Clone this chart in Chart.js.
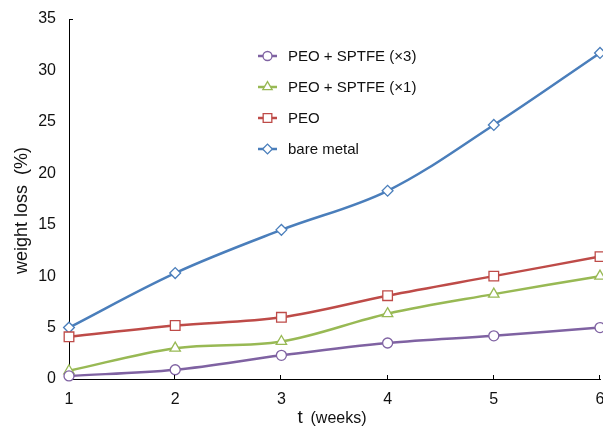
<!DOCTYPE html>
<html><head><meta charset="utf-8">
<script src="https://cdn.jsdelivr.net/npm/chart.js@4.4.0/dist/chart.umd.min.js"></script>
<style>html,body{margin:0;padding:0;background:#fff}#wrap{width:603px;height:427px}</style>
</head><body><div id="wrap"><canvas id="c" width="603" height="427"></canvas></div>
<script>
const weeks = [1, 2, 3, 4, 5, 6];
const peoSptfe3 = [0.3, 0.9, 2.3, 3.5, 4.2, 5.0];
const peoSptfe1 = [0.8, 3.0, 3.65, 6.35, 8.25, 10.0];
const peo = [4.1, 5.2, 6.0, 8.1, 10.0, 11.9];
const bareMetal = [5.0, 10.3, 14.5, 18.3, 24.7, 31.7];
const seriesNames = ['PEO + SPTFE (×3)', 'PEO + SPTFE (×1)', 'PEO', 'bare metal'];
const yTitle = 'weight loss  (%)';
const xTitleMain = 't';
const xTitleUnit = '(weeks)';

const FONT = '"Liberation Sans", Arial, sans-serif';
const colors = ['#7F62A2', '#98B954', '#BE4B48', '#4A7EBB'];
const styles = ['circle', 'triangle', 'rect', 'rectRot'];
const radii = [5, 6, 6.8, 5.4];
const seriesData = [peoSptfe3, peoSptfe1, peo, bareMetal];

const datasets = seriesData.map((arr, i) => ({
  label: seriesNames[i],
  data: weeks.map((w, j) => ({x: w, y: arr[j]})),
  borderColor: colors[i],
  borderWidth: 2.5,
  pointStyle: styles[i],
  pointRadius: radii[i],
  pointBorderWidth: 1.3,
  pointBorderColor: colors[i],
  pointBackgroundColor: '#fff',
  tension: 0.35,
  clip: false
}));

function drawMarker(ctx, style, r, x, y, color) {
  ctx.save();
  ctx.strokeStyle = color; ctx.fillStyle = '#fff'; ctx.lineWidth = 1.3;
  if (Chart.helpers && Chart.helpers.drawPoint) {
    Chart.helpers.drawPoint(ctx, {pointStyle: style, radius: r, borderWidth: 1.3, rotation: 0}, x, y);
  }
  ctx.restore();
}

const decor = {
  id: 'decor',
  afterDraw(chart) {
    const ctx = chart.ctx, a = chart.chartArea, xs = chart.scales.x;
    ctx.save();
    // x tick marks pointing up
    ctx.strokeStyle = '#000'; ctx.lineWidth = 1;
    weeks.slice(1).forEach(w => {
      const px = Math.round(xs.getPixelForValue(w)) - 0.5;
      ctx.beginPath(); ctx.moveTo(px, a.bottom); ctx.lineTo(px, a.bottom - 4); ctx.stroke();
    });
    // small tick at top of y axis
    ctx.beginPath(); ctx.moveTo(a.left, Math.round(a.top) + 0.5); ctx.lineTo(a.left + 4, Math.round(a.top) + 0.5); ctx.stroke();
    // x title
    ctx.fillStyle = '#111'; ctx.textBaseline = 'alphabetic'; ctx.textAlign = 'left';
    ctx.font = '19px ' + FONT;
    const mid = (a.left + a.right) / 2;
    ctx.fillText(xTitleMain, mid - 37, 423);
    ctx.font = '16px ' + FONT;
    ctx.fillText(xTitleUnit, mid - 24, 423);
    // y title
    ctx.save();
    ctx.translate(22, 210.5);
    ctx.rotate(-Math.PI / 2);
    ctx.font = '18px ' + FONT; ctx.textAlign = 'center'; ctx.textBaseline = 'middle';
    ctx.fillText(yTitle, 0, 0);
    ctx.restore();
    // legend
    chart.data.datasets.forEach((ds, i) => {
      const y = 56 + 31 * i;
      const x0 = a.left + 189;
      ctx.strokeStyle = ds.borderColor; ctx.lineWidth = 2.5;
      ctx.beginPath(); ctx.moveTo(x0, y); ctx.lineTo(x0 + 19, y); ctx.stroke();
      drawMarker(ctx, ds.pointStyle, ds.pointRadius * 0.9, x0 + 9.5, y, ds.borderColor);
      ctx.fillStyle = '#111'; ctx.font = '15px ' + FONT;
      ctx.textAlign = 'left'; ctx.textBaseline = 'middle';
      ctx.fillText(ds.label, x0 + 30, y + 1);
    });
    ctx.restore();
  }
};

new Chart(document.getElementById('c'), {
  type: 'line',
  data: {datasets},
  options: {
    responsive: false,
    animation: false,
    devicePixelRatio: 1,
    layout: {autoPadding: false, padding: {top: 19, right: 3, left: 0, bottom: 0}},
    plugins: {legend: {display: false}, tooltip: {enabled: false}},
    scales: {
      x: {
        type: 'linear', min: 1, max: 6,
        ticks: {stepSize: 1, padding: 11, color: '#111', font: {family: FONT, size: 16}},
        grid: {display: false, drawTicks: false},
        border: {display: true, color: '#000', width: 1},
        afterFit(s) { s.height = 48; s.paddingLeft = 0; s.paddingRight = 0; }
      },
      y: {
        min: 0, max: 35,
        ticks: {stepSize: 5, padding: 13, color: '#111', font: {family: FONT, size: 16}},
        grid: {display: false, drawTicks: false},
        border: {display: true, color: '#000', width: 1},
        afterFit(s) { s.width = 69; s.paddingTop = 0; s.paddingBottom = 0; }
      }
    }
  },
  plugins: [decor]
});
</script></body></html>
